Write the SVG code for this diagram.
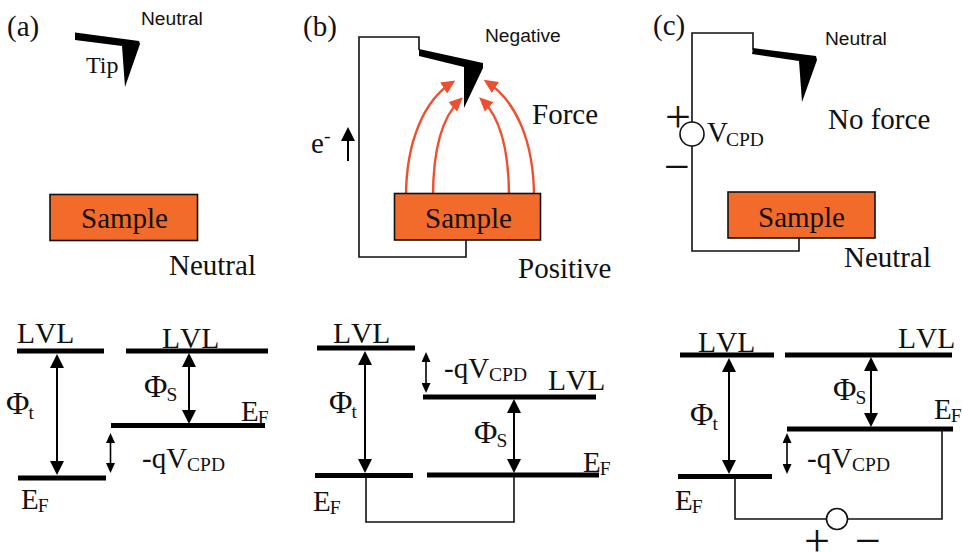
<svg xmlns="http://www.w3.org/2000/svg" width="962" height="552" viewBox="0 0 962 552">
<style>
text{font-family:"Liberation Serif","Times New Roman",serif;font-size:29px;fill:#111}
.sans{font-family:"Liberation Sans",Arial,sans-serif;font-size:19.2px}
.tip{font-size:24px}
.sub{font-size:19.5px}
.big{font-size:46px}
.lvl{font-kerning:none;font-size:29.5px}
.phi{font-size:32px}
.sample{fill:#f26b2a;stroke:#111;stroke-width:1.6}
.cant{fill:#000}
.wire{fill:none;stroke:#111;stroke-width:1.6}
.bar{stroke:#000;stroke-width:5;fill:none}
.dbl{stroke:#000;stroke-width:2;marker-start:url(#head);marker-end:url(#head)}
.sdbl{stroke:#000;stroke-width:1.6;marker-start:url(#shead);marker-end:url(#shead)}
.force{fill:none;stroke:#ee4f2f;stroke-width:2.4;marker-end:url(#rhead)}
.up{stroke:#000;stroke-width:2;marker-end:url(#head)}
.bg{fill:#fff;stroke:#111;stroke-width:1.6}
</style>
<defs>
<marker id="head" markerUnits="userSpaceOnUse" markerWidth="14" markerHeight="14" refX="10" refY="7" orient="auto-start-reverse"><path d="M0,0L14,7L0,14Z" fill="#000"/></marker>
<marker id="shead" markerUnits="userSpaceOnUse" markerWidth="10" markerHeight="9" refX="7" refY="4.5" orient="auto-start-reverse"><path d="M0,0L10,4.5L0,9Z" fill="#000"/></marker>
<marker id="rhead" markerUnits="userSpaceOnUse" markerWidth="14" markerHeight="13" refX="10" refY="6.5" orient="auto"><path d="M0,0L14,6.5L0,13Z" fill="#ee4f2f"/></marker>
</defs>
<rect width="962" height="552" fill="#fff"/>

<g id="connectors">
<path class="wire" d="M419,50V37H359V257H466V240"/>
<path class="wire" d="M753,50V33H692V251H799V238"/>
<path class="force" d="M406,197C406,140 425,100 452,82.6"/>
<path class="force" d="M433,197C433,150 441,118 460,100"/>
<path class="force" d="M509,197C509,150 501,118 482,100"/>
<path class="force" d="M534,197C534,140 515,100 487,82"/>
<line class="up" x1="348" y1="161" x2="348" y2="131"/>
<line class="dbl" x1="57" y1="358" x2="57" y2="471"/>
<line class="dbl" x1="189" y1="357" x2="189" y2="420"/>
<line class="sdbl" x1="110.5" y1="436" x2="110.5" y2="470"/>
<line class="dbl" x1="365" y1="355" x2="365" y2="469"/>
<line class="dbl" x1="514" y1="403" x2="514" y2="469"/>
<line class="sdbl" x1="426" y1="355" x2="426" y2="390"/>
<line class="dbl" x1="729" y1="362" x2="729" y2="470"/>
<line class="dbl" x1="871" y1="361" x2="871" y2="423"/>
<line class="sdbl" x1="787" y1="436" x2="787" y2="471"/>
<path class="wire" d="M366,476V522H514V476"/>
<path class="wire" d="M735,477V519H942V429"/>
</g>

<g id="panel-a-label"><text x="7" y="36">(a)</text></g>
<g id="tip-a">
<polygon class="cant" points="75,32.5 139,41 140,44 125,87 122,46 75,40"/>
<text class="tip" x="86" y="73">Tip</text>
<text class="sans" x="141" y="25">Neutral</text>
</g>
<g id="sample-a">
<rect class="sample" x="50" y="194.5" width="147.5" height="46"/>
<text x="81" y="228">Sample</text>
<text x="169" y="275">Neutral</text>
</g>

<g id="panel-b-label"><text x="303" y="36">(b)</text></g>
<g id="tip-b">
<polygon class="cant" points="419,49 483,63 483,68 464,108 464,67 419,56"/>
<text class="sans" x="485" y="42">Negative</text>
</g>
<g id="sample-b">
<rect class="sample" x="394.5" y="193.5" width="146" height="46.5"/>
<text x="425" y="228">Sample</text>
<text x="518" y="278">Positive</text>
</g>
<g id="force-b"><text x="532" y="124">Force</text></g>
<g id="electron-b"><text x="311" y="153">e<tspan class="sub" dy="-11">-</tspan></text></g>

<g id="panel-c-label"><text x="653" y="35">(c)</text></g>
<g id="tip-c">
<polygon class="cant" points="753,48 816,56 817,60 802,102 799,61 752,54"/>
<text class="sans" x="825" y="45">Neutral</text>
</g>
<g id="noforce-c"><text x="828" y="129">No force</text></g>
<g id="source-c">
<circle class="bg" cx="692" cy="134" r="12"/>
<text x="707" y="142">V<tspan class="sub" dy="4" dx="-2">CPD</tspan></text>
<text class="big" x="665" y="132">+</text>
<text class="big" x="664" y="182">−</text>
</g>
<g id="sample-c">
<rect class="sample" x="728" y="192" width="147" height="46"/>
<text x="758" y="227">Sample</text>
<text x="844" y="267">Neutral</text>
</g>

<g id="levels-a">
<line class="bar" x1="17" y1="351" x2="104" y2="351"/>
<line class="bar" x1="126" y1="351" x2="268" y2="351"/>
<line class="bar" x1="111" y1="425.5" x2="265" y2="425.5"/>
<line class="bar" x1="18" y1="478" x2="106" y2="478"/>
<text class="lvl" x="17" y="343">LVL</text>
<text class="lvl" x="162" y="348">LVL</text>
<text x="6" y="414"><tspan class="phi">Φ</tspan><tspan class="sub" dy="5" dx="-1">t</tspan></text>
<text x="144" y="397"><tspan class="phi">Φ</tspan><tspan class="sub" dy="4" dx="-1">S</tspan></text>
<text x="241" y="421">E<tspan class="sub" dy="3" dx="-1">F</tspan></text>
<text x="142" y="468">-qV<tspan class="sub" dy="3">CPD</tspan></text>
<text x="21" y="509">E<tspan class="sub" dy="3" dx="-1">F</tspan></text>
</g>

<g id="levels-b">
<line class="bar" x1="317" y1="348" x2="415" y2="348"/>
<line class="bar" x1="423" y1="397" x2="596" y2="397"/>
<line class="bar" x1="315" y1="475.5" x2="413" y2="475.5"/>
<line class="bar" x1="427" y1="475" x2="599" y2="475"/>
<text class="lvl" x="333" y="343">LVL</text>
<text class="lvl" x="548" y="390">LVL</text>
<text x="329" y="413"><tspan class="phi">Φ</tspan><tspan class="sub" dy="5" dx="-1">t</tspan></text>
<text x="474" y="443"><tspan class="phi">Φ</tspan><tspan class="sub" dy="4" dx="-1">S</tspan></text>
<text x="583" y="472">E<tspan class="sub" dy="3" dx="-1">F</tspan></text>
<text x="444" y="378">-qV<tspan class="sub" dy="3">CPD</tspan></text>
<text x="313" y="511">E<tspan class="sub" dy="3" dx="-1">F</tspan></text>
</g>

<g id="levels-c">
<line class="bar" x1="680" y1="355" x2="774" y2="355"/>
<line class="bar" x1="785" y1="355" x2="952" y2="355"/>
<line class="bar" x1="787" y1="429" x2="953" y2="429"/>
<line class="bar" x1="678" y1="476.5" x2="772" y2="476.5"/>
<text class="lvl" x="698" y="352">LVL</text>
<text class="lvl" x="898" y="348">LVL</text>
<text x="690" y="425"><tspan class="phi">Φ</tspan><tspan class="sub" dy="5" dx="-1">t</tspan></text>
<text x="833" y="400"><tspan class="phi">Φ</tspan><tspan class="sub" dy="4" dx="-1">S</tspan></text>
<text x="934" y="419">E<tspan class="sub" dy="3" dx="-1">F</tspan></text>
<text x="807" y="468">-qV<tspan class="sub" dy="3">CPD</tspan></text>
<text x="675" y="510">E<tspan class="sub" dy="3" dx="-1">F</tspan></text>
</g>
<g id="source-c-bottom">
<circle class="bg" cx="837" cy="519" r="10.5"/>
<text class="big" x="804" y="556">+</text>
<text class="big" x="855" y="556">−</text>
</g>
</svg>
